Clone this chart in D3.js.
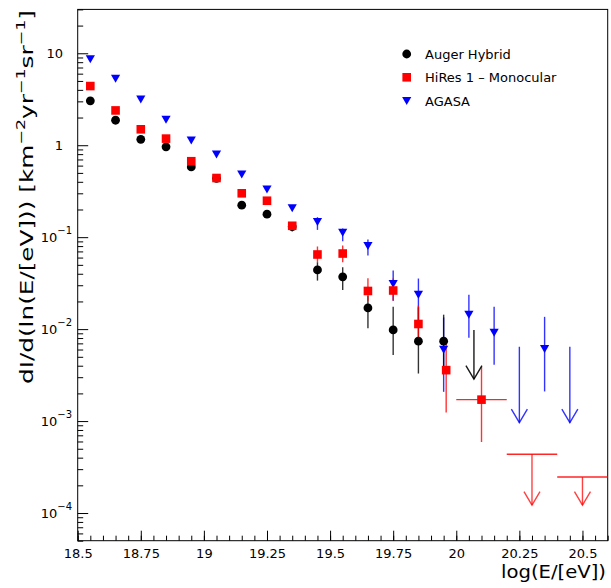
<!DOCTYPE html>
<html><head><meta charset="utf-8">
<script src="https://cdn.jsdelivr.net/npm/d3@7"></script>
<style>
body{margin:0;background:#fff;}
svg{display:block;font-family:"DejaVu Sans",sans-serif;}
</style></head>
<body>
<svg id="c" width="611" height="588"></svg>
<script>
// ---------- data ----------
const augerX  = [18.55,18.65,18.75,18.85,18.95,19.05,19.15,19.25,19.35,19.45,19.55,19.65,19.75,19.85,19.95];
const augerY  = [3.04,1.87,1.16,0.96,0.58,0.437,0.223,0.178,0.13,0.044,0.037,0.017,0.0098,0.0074,0.0074];
const augerHi = [3.2,1.96,1.22,1.0,0.61,0.46,0.235,0.192,0.145,0.0534,0.0471,0.0231,0.01755,0.01725,0.01436];
const augerLo = [2.88,1.78,1.1,0.92,0.55,0.415,0.21,0.164,0.115,0.0337,0.0267,0.0102,0.00522,0.00329,0.00326];
const augerLimX = [20.07], augerLimTop = [0.00978], augerLimTip = [0.00286];

const hiresX  = [18.55,18.65,18.75,18.85,18.95,19.05,19.15,19.25,19.35,19.45,19.55,19.65,19.75,19.85,19.96,20.1];
const hiresY  = [4.40,2.39,1.49,1.18,0.67,0.44,0.30,0.249,0.133,0.0648,0.0664,0.026,0.0263,0.01137,0.00358,0.00171];
const hiresHi = [4.5,2.45,1.53,1.22,0.7,0.46,0.315,0.262,0.142,0.0792,0.0812,0.0357,0.0355,0.018,0.00688,0.00389];
const hiresLo = [4.3,2.33,1.45,1.14,0.64,0.42,0.285,0.236,0.124,0.0534,0.0534,0.0204,0.0204,0.00747,0.00124,0.000592];
const hiresXlo = [null,null,null,null,null,null,null,null,null,null,null,null,null,null,null,20.0];
const hiresXhi = [null,null,null,null,null,null,null,null,null,null,null,null,null,null,null,20.2];
const hiresLimX = [20.3,20.5], hiresLimXlo = [20.2,20.4], hiresLimXhi = [20.4,20.6];
const hiresLimTop = [4.35e-4,2.46e-4], hiresLimTip = [1.22e-4,1.22e-4];

const agasaX  = [18.55,18.65,18.75,18.85,18.95,19.05,19.15,19.25,19.35,19.45,19.55,19.65,19.75,19.85,19.95,20.05,20.15,20.35];
const agasaY  = [8.6,5.28,3.15,1.89,1.125,0.792,0.479,0.329,0.206,0.146,0.112,0.080,0.031,0.0237,0.00596,0.01436,0.00914,0.00607];
const agasaHi = [8.8,5.4,3.22,1.94,1.16,0.82,0.495,0.342,0.216,0.165,0.124,0.0944,0.0433,0.0355,0.0134,0.0237,0.0175,0.0136];
const agasaLo = [8.4,5.16,3.08,1.84,1.09,0.765,0.463,0.316,0.196,0.12,0.0904,0.0631,0.0204,0.01145,0.00208,0.00806,0.00409,0.0021];
const agasaLimX = [20.25,20.45], agasaLimTop = [0.00643,0.00643], agasaLimTip = [9.6e-4,9.6e-4];

const xMajor = [18.5,18.75,19,19.25,19.5,19.75,20,20.25,20.5];
const xLabels = ["18.5","18.75","19","19.25","19.5","19.75","20","20.25","20.5"];
const yMajorExp = [-4,-3,-2,-1,0,1];
const legendNames = ["Auger Hybrid","HiRes 1 \u2013 Monocular","AGASA"];
const colors = ["#000000","#ff0000","#0000ff"];

// ---------- scales ----------
const L=77.7, R=607.7, T=9.4, B=540.7;
const x = d3.scaleLinear().domain([18.5,20.6]).range([L,R]);
const y = d3.scaleLog().domain([5e-5,30]).range([B,T]);
const svg = d3.select("#c");

// frame
svg.append("rect").attr("x",L).attr("y",T).attr("width",R-L).attr("height",B-T)
  .attr("fill","none").attr("stroke","#000").attr("stroke-width",1);

// x ticks
const xMinor = d3.range(0,43).map(i=>+(18.5+i*0.05).toFixed(2)).filter(v=>v<=20.6);
const gx = svg.append("g").attr("transform",`translate(0,${B})`);
gx.call(d3.axisBottom(x).tickValues(xMinor).tickSize(-5).tickFormat(""));
gx.call(g=>g.select(".domain").remove());
const gx2 = svg.append("g").attr("transform",`translate(0,${B})`);
gx2.call(d3.axisBottom(x).tickValues(xMajor).tickSize(-10).tickPadding(8).tickFormat((d,i)=>xLabels[i]));
gx2.call(g=>g.select(".domain").remove());
svg.selectAll("g line").attr("stroke","#000");
gx2.selectAll("text").attr("font-family","DejaVu Sans").attr("font-size",13).attr("fill","#000");

// y ticks
const yMinor=[];
for(let e=-5;e<=1;e++) for(let m=2;m<=9;m++){const v=m*Math.pow(10,e); if(v>=5e-5&&v<=30) yMinor.push(v);}
const yMajor = yMajorExp.map(e=>Math.pow(10,e));
const gy = svg.append("g").attr("transform",`translate(${L},0)`);
gy.call(d3.axisLeft(y).tickValues(yMinor).tickSize(-5.5).tickFormat(""));
gy.call(g=>g.select(".domain").remove());
const gy2 = svg.append("g").attr("transform",`translate(${L},0)`);
gy2.call(d3.axisLeft(y).tickValues(yMajor).tickSize(-10.5).tickFormat(""));
gy2.call(g=>g.select(".domain").remove());
svg.selectAll("g line").attr("stroke","#000");

// y labels
yMajorExp.forEach(e=>{
  const yy = y(Math.pow(10,e));
  if(e===0||e===1){
    svg.append("text").attr("x",63).attr("y",yy+4.8).attr("text-anchor","end")
      .attr("font-size",13).text(e===1?"10":"1");
  } else {
    const t = svg.append("text").attr("x",72).attr("y",yy+4.8).attr("text-anchor","end").attr("font-size",13);
    t.append("tspan").text("10");
    t.append("tspan").attr("font-size",10).attr("dy",-8).text("\u2212"+(-e));
  }
});

// axis titles
svg.append("text").attr("x",606).attr("y",578).attr("text-anchor","end")
  .attr("font-size",18).attr("textLength",105).attr("lengthAdjust","spacingAndGlyphs").text("log(E/[eV])");
const yt = svg.append("text").attr("transform","translate(33,384) rotate(-90)")
  .attr("font-size",17).attr("textLength",374).attr("lengthAdjust","spacingAndGlyphs");
yt.append("tspan").text("dI/d(ln(E/[eV])) [km");
yt.append("tspan").attr("font-size",12).attr("dy",-8).text("\u22122");
yt.append("tspan").attr("dy",8).text("yr");
yt.append("tspan").attr("font-size",12).attr("dy",-8).text("\u22121");
yt.append("tspan").attr("dy",8).text("sr");
yt.append("tspan").attr("font-size",12).attr("dy",-8).text("\u22121");
yt.append("tspan").attr("dy",8).text("]");

// ---------- data marks ----------
const plot = svg.append("g");
function errBars(X,Y,Hi,Lo,col){
  plot.selectAll(null).data(X.map((v,i)=>({x:v,hi:Hi[i],lo:Lo[i]}))).enter().append("line")
    .attr("x1",d=>x(d.x)).attr("x2",d=>x(d.x)).attr("y1",d=>y(d.hi)).attr("y2",d=>y(d.lo))
    .attr("stroke",col).attr("stroke-width",1.4).attr("stroke-opacity",0.8);
}
function arrows(X,Top,Tip,col,op){
  const d=X.map((v,i)=>({x:v,top:Top[i],tip:Tip[i]}));
  plot.selectAll(null).data(d).enter().append("line")
    .attr("x1",e=>x(e.x)).attr("x2",e=>x(e.x)).attr("y1",e=>y(e.top)).attr("y2",e=>y(e.tip))
    .attr("stroke",col).attr("stroke-width",1.4).attr("stroke-opacity",op);
  plot.selectAll(null).data(d).enter().append("path")
    .attr("d",e=>{const px=x(e.x),py=y(e.tip);return `M${px-8},${py-13.5}L${px},${py}L${px+8},${py-13.5}`;})
    .attr("fill","none").attr("stroke",col).attr("stroke-width",1.4).attr("stroke-opacity",op);
}
// error bars
errBars(agasaX,agasaY,agasaHi,agasaLo,colors[2]);
errBars(augerX,augerY,augerHi,augerLo,colors[0]);
errBars(hiresX,hiresY,hiresHi,hiresLo,colors[1]);
// horizontal x-errors for HiRes
plot.selectAll(null).data(hiresX.map((v,i)=>({lo:hiresXlo[i],hi:hiresXhi[i],y:hiresY[i]})).filter(d=>d.lo!==null))
  .enter().append("line").attr("x1",d=>x(d.lo)).attr("x2",d=>x(d.hi)).attr("y1",d=>y(d.y)).attr("y2",d=>y(d.y))
  .attr("stroke",colors[1]).attr("stroke-width",1.4).attr("stroke-opacity",0.85);
// upper limits
arrows(augerLimX,augerLimTop,augerLimTip,colors[0],0.9);
arrows(agasaLimX,agasaLimTop,agasaLimTip,colors[2],0.8);
arrows(hiresLimX,hiresLimTop,hiresLimTip,colors[1],0.75);
plot.selectAll(null).data(hiresLimX.map((v,i)=>({lo:hiresLimXlo[i],hi:hiresLimXhi[i],y:hiresLimTop[i]})))
  .enter().append("line").attr("x1",d=>x(d.lo)).attr("x2",d=>x(d.hi)).attr("y1",d=>y(d.y)).attr("y2",d=>y(d.y))
  .attr("stroke",colors[1]).attr("stroke-width",1.4).attr("stroke-opacity",0.85);

// markers
const tri = (px,py)=>`M${px-4.6},${py-4}L${px+4.6},${py-4}L${px},${py+4}Z`;
plot.selectAll(null).data(agasaX.map((v,i)=>[v,agasaY[i]])).enter().append("path")
  .attr("d",d=>tri(x(d[0]),y(d[1]))).attr("fill",colors[2]);
plot.selectAll(null).data(augerX.map((v,i)=>[v,augerY[i]])).enter().append("circle")
  .attr("cx",d=>x(d[0])).attr("cy",d=>y(d[1])).attr("r",4.4).attr("fill",colors[0]);
plot.selectAll(null).data(hiresX.map((v,i)=>[v,hiresY[i]])).enter().append("rect")
  .attr("x",d=>x(d[0])-4.3).attr("y",d=>y(d[1])-4.3).attr("width",8.6).attr("height",8.6).attr("fill",colors[1]);

// legend
const lg = svg.append("g");
const ly=[54,77.3,101], lx=406.7;
lg.append("circle").attr("cx",lx).attr("cy",ly[0]).attr("r",4.4).attr("fill",colors[0]);
lg.append("rect").attr("x",lx-4.3).attr("y",ly[1]-4.3).attr("width",8.6).attr("height",8.6).attr("fill",colors[1]);
lg.append("path").attr("d",tri(lx,ly[2])).attr("fill",colors[2]);
legendNames.forEach((n,i)=>lg.append("text").attr("x",425).attr("y",ly[i]+4.7).attr("font-size",13).text(n));
</script>
</body></html>
